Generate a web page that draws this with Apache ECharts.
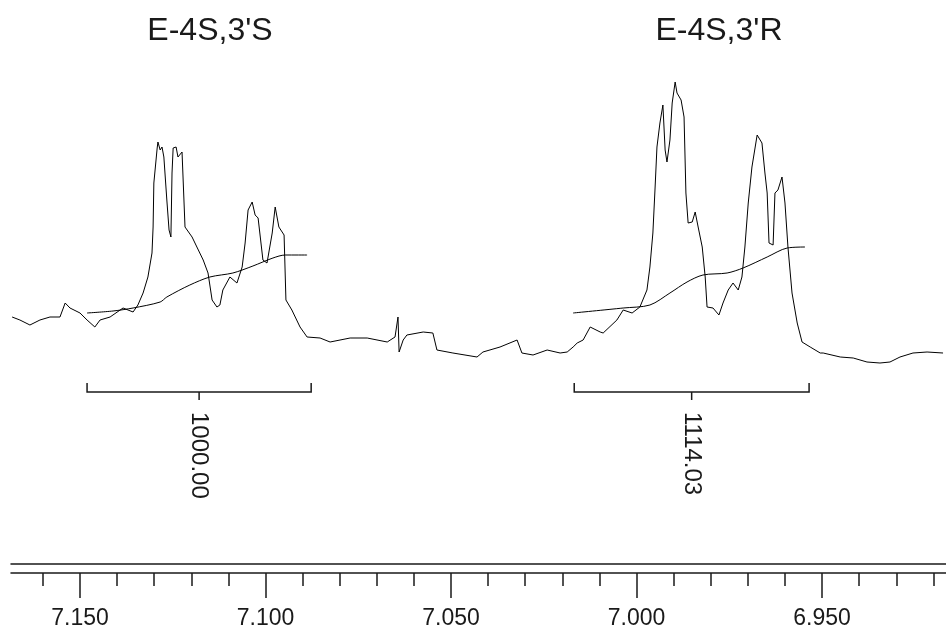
<!DOCTYPE html>
<html>
<head>
    <meta charset="utf-8"/>
    <script src="https://cdn.jsdelivr.net/npm/echarts@6/dist/echarts.min.js"></script>
    <style>
        html, body { margin: 0; padding: 0; background: #fff; }
    </style>
</head>
<body>
<div id="main" style="width: 946px;height:632px;"></div>
<script type="text/javascript">
    // spectrum, ppm and intensity
    var ppm = [7.1683, 7.1662, 7.1635, 7.1608, 7.1581, 7.1554, 7.1540, 7.1527, 7.1500, 7.1481,
        7.1460, 7.1446, 7.1419, 7.1384, 7.1357, 7.1344, 7.1330, 7.1317, 7.1306, 7.1303,
        7.1301, 7.1292, 7.1290, 7.1284, 7.1279, 7.1274, 7.1266, 7.1260, 7.1255, 7.1252,
        7.1249, 7.1241, 7.1236, 7.1225, 7.1217, 7.1198, 7.1185, 7.1168, 7.1155, 7.1144,
        7.1131, 7.1123, 7.1115, 7.1096, 7.1077, 7.1063, 7.1055, 7.1047, 7.1036, 7.1028,
        7.1020, 7.1007, 7.0996, 7.0982, 7.0974, 7.0964, 7.0950, 7.0945, 7.0929, 7.0907,
        7.0888, 7.0853, 7.0826, 7.0772, 7.0726, 7.0672, 7.0651, 7.0643, 7.0640, 7.0629,
        7.0619, 7.0575, 7.0549, 7.0538, 7.0495, 7.0430, 7.0414, 7.0368, 7.0322, 7.0309,
        7.0279, 7.0241, 7.0206, 7.0187, 7.0171, 7.0160, 7.0144, 7.0125, 7.0098, 7.0090,
        7.0053, 7.0036, 7.0012, 6.9991, 6.9972, 6.9964, 6.9956, 6.9950, 6.9945, 6.9937,
        6.9929, 6.9923, 6.9918, 6.9910, 6.9904, 6.9896, 6.9891, 6.9880, 6.9872, 6.9867,
        6.9861, 6.9850, 6.9842, 6.9834, 6.9823, 6.9815, 6.9810, 6.9794, 6.9778, 6.9767,
        6.9753, 6.9740, 6.9726, 6.9716, 6.9708, 6.9699, 6.9689, 6.9675, 6.9662, 6.9654,
        6.9648, 6.9643, 6.9632, 6.9627, 6.9619, 6.9608, 6.9600, 6.9592, 6.9581, 6.9567,
        6.9554, 6.9532, 6.9505, 6.9497, 6.9451, 6.9416, 6.9379, 6.9344, 6.9317, 6.9290,
        6.9255, 6.9217, 6.9174];
    var intensity = [23, 20, 15, 20, 23, 23, 37, 32, 27, 20,
        13, 20, 23, 32, 28, 35, 47, 63, 87, 113,
        157, 192, 198, 190, 193, 183, 140, 110, 103, 167,
        192, 193, 183, 188, 113, 103, 93, 80, 67, 40,
        33, 35, 50, 63, 57, 73, 97, 130, 138, 125,
        122, 80, 77, 107, 133, 113, 105, 40, 30, 13,
        3, 2, -2, 2, 2, -2, 3, 23, -12, 0,
        5, 8, 7, -10, -13, -17, -12, -7, 0, -13,
        -15, -10, -13, -12, -7, -3, 0, 13, 8, 7,
        20, 30, 27, 33, 50, 73, 107, 153, 193, 217,
        235, 190, 178, 200, 237, 258, 247, 240, 223, 147,
        117, 118, 128, 113, 93, 63, 33, 32, 25, 37,
        50, 57, 50, 63, 93, 137, 173, 205, 197, 167,
        147, 97, 95, 147, 150, 163, 137, 93, 47, 17,
        -2, -7, -13, -13, -17, -18, -22, -23, -22, -17,
        -13, -12, -13];

    // integral curves
    var int1Ppm = [7.1481, 7.1411, 7.1357, 7.1284, 7.1266, 7.1204, 7.1150, 7.1088, 7.1034, 7.0980, 7.0947, 7.0888];
    var int1Val = [27, 29, 32, 38, 43, 55, 63, 67, 74, 82, 85, 85];
    var int2Ppm = [7.0171, 7.0036, 6.9964, 6.9910, 6.9864, 6.9821, 6.9756, 6.9713, 6.9648, 6.9594, 6.9546];
    var int2Val = [27, 32, 35, 47, 58, 65, 67, 72, 83, 92, 93];

    // integral regions [from, to] and their values
    var integralRanges = [[7.1481, 7.0877], [7.0168, 6.9535]];
    var integralValues = ['1000.00', '1114.03'];

    var titles = ["E-4S,3'S", "E-4S,3'R"];

    var majorTicks = [6.95, 7.00, 7.05, 7.10, 7.15];
    var minorTicks = [6.92, 6.93, 6.94, 6.95, 6.96, 6.97, 6.98, 6.99, 7.00, 7.01, 7.02, 7.03,
        7.04, 7.05, 7.06, 7.07, 7.08, 7.09, 7.10, 7.11, 7.12, 7.13, 7.14, 7.15, 7.16];

    function pairs(xs, ys) {
        var out = [];
        for (var i = 0; i < xs.length; i++) out.push([xs[i], ys[i]]);
        return out;
    }

    var fontFam = 'Liberation Sans, Arial, sans-serif';
    var ink = '#1a1a1a';

    var myChart = echarts.init(document.getElementById('main'));

    var axisBase = {
        type: 'value',
        min: 6.9166,
        max: 7.1686,
        inverse: true,
        position: 'bottom',
        splitLine: {show: false}
    };

    var option = {
        backgroundColor: '#fff',
        animation: false,
        grid: {left: 11, right: 0, top: 0, bottom: 68},
        graphic: [
            {type: 'text', x: 210, y: 31, style: {text: titles[0], fill: ink, font: '32px ' + fontFam, align: 'center', verticalAlign: 'middle'}},
            {type: 'text', x: 719, y: 31, style: {text: titles[1], fill: ink, font: '32px ' + fontFam, align: 'center', verticalAlign: 'middle'}}
        ],
        xAxis: [
            Object.assign({}, axisBase, {
                axisLine: {show: true, onZero: false, lineStyle: {color: ink, width: 1.5}},
                axisTick: {show: false},
                axisLabel: {show: false}
            }),
            Object.assign({}, axisBase, {
                offset: 9,
                axisLine: {show: true, onZero: false, lineStyle: {color: ink, width: 1.5}},
                axisTick: {show: true, length: 13, customValues: minorTicks, lineStyle: {color: ink, width: 1.5}},
                axisLabel: {show: false}
            }),
            Object.assign({}, axisBase, {
                offset: 9,
                axisLine: {show: false, onZero: false},
                axisTick: {show: true, length: 25, customValues: majorTicks, lineStyle: {color: ink, width: 1.5}},
                axisLabel: {
                    show: true,
                    customValues: majorTicks,
                    margin: 34,
                    color: ink,
                    fontSize: 23,
                    fontFamily: fontFam,
                    formatter: function (v) { return v.toFixed(3); }
                }
            })
        ],
        yAxis: {type: 'value', min: -224, max: 340, show: false},
        series: [
            {
                name: 'spectrum',
                type: 'line',
                data: pairs(ppm, intensity),
                showSymbol: false,
                lineStyle: {color: '#000', width: 1},
                z: 3
            },
            {
                name: 'integral1',
                type: 'line',
                data: pairs(int1Ppm, int1Val),
                showSymbol: false,
                smooth: 0.3,
                lineStyle: {color: '#000', width: 1},
                z: 3
            },
            {
                name: 'integral2',
                type: 'line',
                data: pairs(int2Ppm, int2Val),
                showSymbol: false,
                smooth: 0.3,
                lineStyle: {color: '#000', width: 1},
                z: 3
            },
            {
                name: 'brackets',
                type: 'custom',
                data: integralRanges.map(function (r, i) { return [r[0], r[1], i]; }),
                renderItem: function (params, api) {
                    var a = api.coord([api.value(0), -52]);
                    var b = api.coord([api.value(1), -52]);
                    var mx = (a[0] + b[0]) / 2;
                    var y = a[1];
                    return {
                        type: 'group',
                        children: [
                            {
                                type: 'polyline',
                                shape: {points: [[a[0], y - 9], [a[0], y], [b[0], y], [b[0], y - 9]]},
                                style: {stroke: ink, lineWidth: 1.5, fill: null}
                            },
                            {
                                type: 'line',
                                shape: {x1: mx, y1: y, x2: mx, y2: y + 8},
                                style: {stroke: ink, lineWidth: 1.5}
                            },
                            {
                                type: 'text',
                                x: mx,
                                y: y + 20,
                                rotation: -Math.PI / 2,
                                style: {
                                    text: integralValues[api.value(2)],
                                    fill: ink,
                                    font: '24px ' + fontFam,
                                    align: 'left',
                                    verticalAlign: 'middle'
                                }
                            }
                        ]
                    };
                }
            }
        ]
    };

    myChart.setOption(option);
</script>
</body>
</html>
